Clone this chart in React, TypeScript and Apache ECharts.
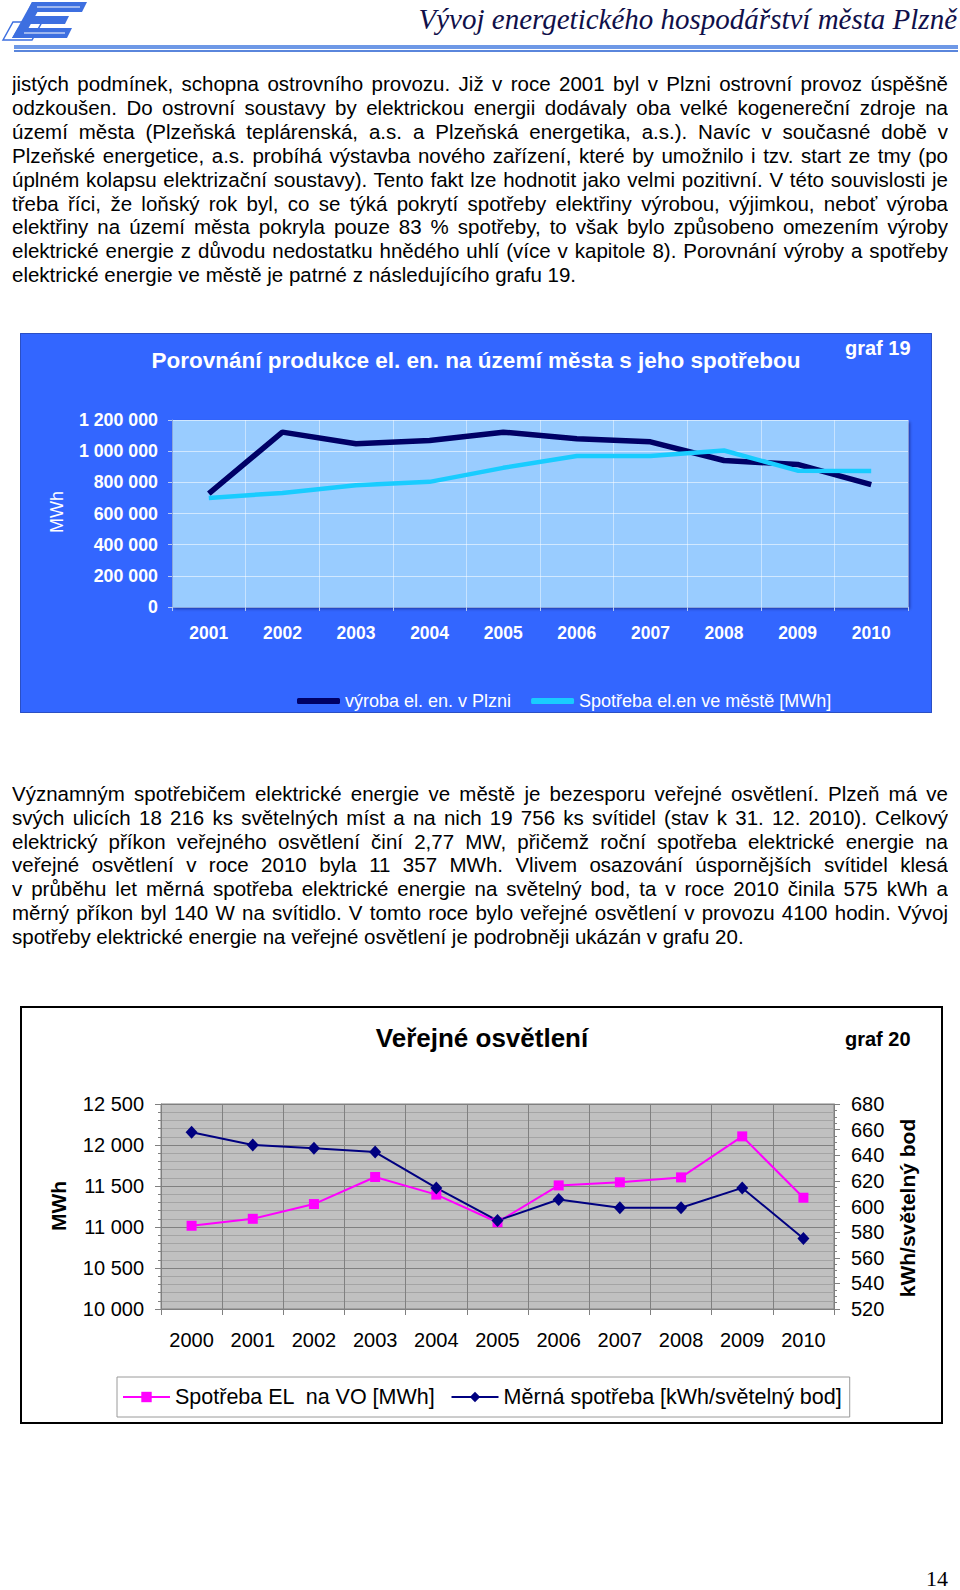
import React, { useEffect, useRef } from "react";
import * as echarts from "echarts";

// ---------- DATA ----------
const years19 = ["2001", "2002", "2003", "2004", "2005", "2006", "2007", "2008", "2009", "2010"];
const vyroba = [728000, 1122000, 1048000, 1068000, 1122000, 1080000, 1060000, 940000, 915000, 785000];
const spotrebaMesto = [700000, 732000, 782000, 803000, 893000, 969000, 969000, 1004000, 875000, 873000];

const years20 = ["2000", "2001", "2002", "2003", "2004", "2005", "2006", "2007", "2008", "2009", "2010"];
const spotrebaVO = [11015, 11100, 11280, 11610, 11395, 11058, 11507, 11545, 11605, 12105, 11357];
const mernaSpotreba = [658, 648, 645.5, 642.5, 614.5, 589, 605.5, 599, 599, 614.5, 575];

const para1 = [
  "jistých podmínek, schopna ostrovního provozu. Již v roce 2001 byl v Plzni ostrovní provoz úspěšně",
  "odzkoušen. Do ostrovní soustavy by elektrickou energii dodávaly oba velké kogenereční zdroje na",
  "území města (Plzeňská teplárenská, a.s. a Plzeňská energetika, a.s.). Navíc v současné době v",
  "Plzeňské energetice, a.s. probíhá výstavba nového zařízení, které by umožnilo i tzv. start ze tmy (po",
  "úplném kolapsu elektrizační soustavy). Tento fakt lze hodnotit jako velmi pozitivní. V této souvislosti je",
  "třeba říci, že loňský rok byl, co se týká pokrytí spotřeby elektřiny výrobou, výjimkou, neboť výroba",
  "elektřiny na území města pokryla pouze 83 % spotřeby, to však bylo způsobeno omezením výroby",
  "elektrické energie z důvodu nedostatku hnědého uhlí (více v kapitole 8).  Porovnání výroby a spotřeby",
  "elektrické energie ve městě je patrné z následujícího grafu 19.",
];
const para2 = [
  "Významným spotřebičem elektrické energie ve městě je bezesporu veřejné osvětlení. Plzeň má ve",
  "svých ulicích 18 216 ks světelných míst a na nich 19 756 ks svítidel (stav k 31. 12. 2010). Celkový",
  "elektrický příkon veřejného osvětlení činí 2,77 MW, přičemž roční spotřeba elektrické energie na",
  "veřejné osvětlení v roce 2010 byla 11 357 MWh. Vlivem osazování úspornějších svítidel klesá",
  "v průběhu let měrná spotřeba elektrické energie na světelný bod, ta v roce 2010 činila 575 kWh a",
  "měrný příkon byl 140 W na svítidlo. V tomto roce bylo veřejné osvětlení v provozu 4100 hodin. Vývoj",
  "spotřeby elektrické energie na veřejné osvětlení je podrobněji ukázán v grafu 20.",
];

const FONT = "'Liberation Sans', Arial, sans-serif";
const fmt = (v: number) => String(v).replace(/\B(?=(\d{3})+(?!\d))/g, " ");

function EChart({ option, style }: { option: any; style: React.CSSProperties }) {
  const ref = useRef<HTMLDivElement>(null);
  useEffect(() => {
    const c = echarts.init(ref.current!, null, { renderer: "svg" });
    c.setOption(option);
    return () => c.dispose();
  }, []);
  return <div ref={ref} style={style} />;
}

const headerOption = {
  animation: false,
  graphic: [
    { type: "polygon", shape: { points: [[3, 40], [13, 22], [42, 22], [32, 40]] }, style: { fill: "#ffffff", stroke: "#3d6fe0", lineWidth: 1.5 } },
    { type: "polygon", shape: { points: [[32, 2], [87, 2], [82, 12], [27, 12]] }, style: { fill: "#3d6fe0" } },
    { type: "polygon", shape: { points: [[25, 16], [69, 16], [65, 24], [21, 24]] }, style: { fill: "#3d6fe0" } },
    { type: "polygon", shape: { points: [[18, 28], [72, 28], [67, 38], [12, 38]] }, style: { fill: "#3d6fe0" } },
    { type: "polygon", shape: { points: [[32, 2], [43, 2], [23, 38], [12, 38]] }, style: { fill: "#3d6fe0" } },
    { type: "line", shape: { x1: 37, y1: 7, x2: 80, y2: 7 }, style: { stroke: "#ffffff", lineWidth: 1 } },
    { type: "line", shape: { x1: 24, y1: 33, x2: 65, y2: 33 }, style: { stroke: "#ffffff", lineWidth: 1 } },
    {
      type: "text", x: 957, y: 19,
      style: { text: "Vývoj energetického hospodářství města Plzně", fontFamily: "'Liberation Serif', serif", fontStyle: "italic", fontSize: 29, fill: "#10104a", align: "right", verticalAlign: "middle" },
    },
    { type: "rect", shape: { x: 14, y: 45, width: 944, height: 4 }, style: { fill: "#6e98e6" } },
    { type: "rect", shape: { x: 14, y: 50, width: 944, height: 2 }, style: { fill: "#5a86dc" } },
  ],
};

const chart19Option = {
  animation: false,
  backgroundColor: "#3366FF",
  textStyle: { fontFamily: FONT },
  graphic: [
    { type: "rect", shape: { x: 0.5, y: 0.5, width: 911, height: 379 }, style: { fill: "none", stroke: "#2b4fc4", lineWidth: 1 } },
    {
      type: "text", x: 456, y: 27,
      style: { text: "Porovnání produkce el. en. na území města s jeho spotřebou", fontFamily: FONT, fontWeight: "bold", fontSize: 22.5, fill: "#ffffff", align: "center", verticalAlign: "middle" },
    },
    {
      type: "text", x: 825, y: 15,
      style: { text: "graf 19", fontFamily: FONT, fontWeight: "bold", fontSize: 20, fill: "#ffffff", align: "left", verticalAlign: "middle" },
    },
    {
      type: "text", x: 37, y: 179, rotation: Math.PI / 2,
      style: { text: "MWh", fontFamily: FONT, fontSize: 18, fill: "#ffffff", align: "center", verticalAlign: "middle" },
    },
  ],
  grid: {
    left: 152, top: 87, width: 736, height: 187, show: true, backgroundColor: "#99CCFF", borderWidth: 0,
    shadowColor: "rgba(0,0,60,0.45)", shadowBlur: 3, shadowOffsetX: 2, shadowOffsetY: 2,
  },
  legend: {
    left: 272, top: 354, itemWidth: 43, itemHeight: 6, itemGap: 20, icon: "roundRect",
    textStyle: { color: "#ffffff", fontSize: 18, fontFamily: FONT },
    data: ["výroba el. en. v Plzni", "Spotřeba el.en ve městě [MWh]"],
  },
  xAxis: {
    type: "category", data: years19, boundaryGap: true,
    axisLine: { lineStyle: { color: "#8aa6dc" } },
    axisTick: { show: true, length: 4, lineStyle: { color: "#b8ccf2" } },
    axisLabel: { color: "#ffffff", fontWeight: "bold", fontSize: 17.5, fontFamily: FONT, margin: 17 },
    splitLine: { show: true, lineStyle: { color: "rgba(255,255,255,0.45)" } },
  },
  yAxis: {
    type: "value", min: 0, max: 1200000, interval: 200000,
    axisLine: { show: true, lineStyle: { color: "#8aa6dc" } },
    axisTick: { show: true, length: 4, lineStyle: { color: "#b8ccf2" } },
    axisLabel: { color: "#ffffff", fontWeight: "bold", fontSize: 17.8, fontFamily: FONT, margin: 14, formatter: fmt },
    splitLine: { show: true, lineStyle: { color: "rgba(255,255,255,0.55)" } },
  },
  series: [
    {
      type: "line", name: "výroba el. en. v Plzni", data: vyroba, symbol: "none",
      lineStyle: { width: 5.5, color: "#000066" }, itemStyle: { color: "#000066" },
    },
    {
      type: "line", name: "Spotřeba el.en ve městě [MWh]", data: spotrebaMesto, symbol: "none",
      lineStyle: { width: 4.5, color: "#19CCFF" }, itemStyle: { color: "#19CCFF" },
    },
  ],
};

const chart20Option = {
  animation: false,
  backgroundColor: "#ffffff",
  textStyle: { fontFamily: FONT },
  graphic: [
    { type: "rect", shape: { x: 1, y: 1, width: 921, height: 416 }, style: { fill: "none", stroke: "#000000", lineWidth: 2 } },
    {
      type: "text", x: 462, y: 32,
      style: { text: "Veřejné osvětlení", fontFamily: FONT, fontWeight: "bold", fontSize: 26, fill: "#000000", align: "center", verticalAlign: "middle" },
    },
    {
      type: "text", x: 825, y: 33,
      style: { text: "graf 20", fontFamily: FONT, fontWeight: "bold", fontSize: 20, fill: "#000000", align: "left", verticalAlign: "middle" },
    },
    {
      type: "text", x: 38, y: 200, rotation: Math.PI / 2,
      style: { text: "MWh", fontFamily: FONT, fontWeight: "bold", fontSize: 21, fill: "#000000", align: "center", verticalAlign: "middle" },
    },
    {
      type: "text", x: 887, y: 202, rotation: Math.PI / 2,
      style: { text: "kWh/světelný bod", fontFamily: FONT, fontWeight: "bold", fontSize: 21, fill: "#000000", align: "center", verticalAlign: "middle" },
    },
  ],
  grid: { left: 141, top: 98, width: 673, height: 205, show: true, backgroundColor: "#C0C0C0", borderColor: "#808080", borderWidth: 1 },
  legend: {
    left: 97, top: 371, padding: [9, 8, 9, 5], itemWidth: 47, itemHeight: 13, itemGap: 15,
    borderColor: "#9a9a9a", borderWidth: 1,
    textStyle: { color: "#000000", fontSize: 21.5, fontFamily: FONT },
    data: ["Spotřeba EL  na VO [MWh]", "Měrná spotřeba [kWh/světelný bod]"],
  },
  xAxis: {
    type: "category", data: years20, boundaryGap: true,
    axisLine: { lineStyle: { color: "#808080" } },
    axisTick: { show: true, length: 6, lineStyle: { color: "#808080" } },
    axisLabel: { color: "#000000", fontSize: 20, fontFamily: FONT, margin: 21 },
    splitLine: { show: true, lineStyle: { color: "#808080" } },
  },
  yAxis: [
    {
      type: "value", min: 10000, max: 12500, interval: 500,
      axisLine: { show: true, lineStyle: { color: "#808080" } },
      axisTick: { show: true, length: 6, lineStyle: { color: "#808080" } },
      minorTick: { show: true, splitNumber: 5, length: 3, lineStyle: { color: "#808080" } },
      minorSplitLine: { show: true, lineStyle: { color: "#a4a4a4" } },
      splitLine: { show: true, lineStyle: { color: "#808080" } },
      axisLabel: { color: "#000000", fontSize: 20, fontFamily: FONT, margin: 17, formatter: fmt },
    },
    {
      type: "value", min: 520, max: 680, interval: 20, position: "right",
      axisLine: { show: true, lineStyle: { color: "#808080" } },
      axisTick: { show: true, length: 6, lineStyle: { color: "#808080" } },
      minorTick: { show: true, splitNumber: 4, length: 3, lineStyle: { color: "#808080" } },
      splitLine: { show: false },
      axisLabel: { color: "#000000", fontSize: 20, fontFamily: FONT, margin: 17 },
    },
  ],
  series: [
    {
      type: "line", name: "Spotřeba EL  na VO [MWh]", data: spotrebaVO, yAxisIndex: 0,
      symbol: "rect", symbolSize: 10,
      lineStyle: { width: 2, color: "#FF00FF" }, itemStyle: { color: "#FF00FF" },
    },
    {
      type: "line", name: "Měrná spotřeba [kWh/světelný bod]", data: mernaSpotreba, yAxisIndex: 1,
      symbol: "diamond", symbolSize: [12, 13],
      lineStyle: { width: 2, color: "#000080" }, itemStyle: { color: "#000080" },
    },
  ],
};

function Paragraph({ lines, top }: { lines: string[]; top: number }) {
  return (
    <div style={{ position: "absolute", left: 12, top, width: 936, fontFamily: FONT, fontSize: "20.5px", lineHeight: "23.9px", color: "#000" }}>
      {lines.map((l, i) => (
        <div
          key={i}
          style={{
            height: "23.9px",
            overflow: "hidden",
            textAlign: i === lines.length - 1 ? "left" : "justify",
            textAlignLast: i === lines.length - 1 ? "left" : "justify",
          } as React.CSSProperties}
        >
          {l}
        </div>
      ))}
    </div>
  );
}

export default function App() {
  return (
    <div style={{ position: "absolute", left: 0, top: 0, width: 960, height: 1590, background: "#fff", overflow: "hidden" }}>
      <EChart option={headerOption} style={{ position: "absolute", left: 0, top: 0, width: 960, height: 60 }} />
      <Paragraph lines={para1} top={72.1} />
      <EChart option={chart19Option} style={{ position: "absolute", left: 20, top: 333, width: 912, height: 380 }} />
      <Paragraph lines={para2} top={781.8} />
      <EChart option={chart20Option} style={{ position: "absolute", left: 20, top: 1006, width: 923, height: 418 }} />
      <div style={{ position: "absolute", right: 12, top: 1566, fontFamily: "'Liberation Serif', serif", fontSize: 22, lineHeight: "26px", color: "#000" }}>14</div>
    </div>
  );
}
